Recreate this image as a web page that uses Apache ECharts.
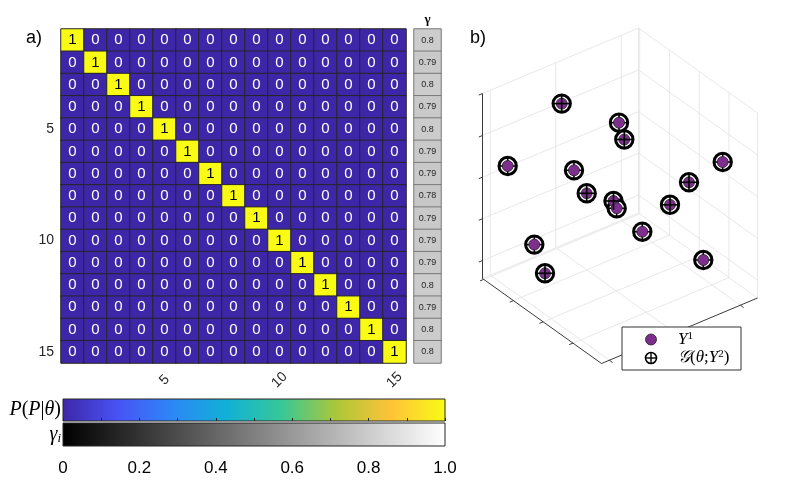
<!DOCTYPE html>
<html><head><meta charset="utf-8">
<script src="https://cdn.jsdelivr.net/npm/echarts@6/dist/echarts.min.js"></script>
<style>html,body{margin:0;padding:0;background:#fff}#c{width:788px;height:499px}</style>
</head><body><div id="c"></div>
<script>
// ---------------- data ----------------
const rowLabels = ['1','2','3','4','5','6','7','8','9','10','11','12','13','14','15'];
const colLabels = ['1','2','3','4','5','6','7','8','9','10','11','12','13','14','15'];
const probRows = [
  [1,0,0,0,0,0,0,0,0,0,0,0,0,0,0],
  [0,1,0,0,0,0,0,0,0,0,0,0,0,0,0],
  [0,0,1,0,0,0,0,0,0,0,0,0,0,0,0],
  [0,0,0,1,0,0,0,0,0,0,0,0,0,0,0],
  [0,0,0,0,1,0,0,0,0,0,0,0,0,0,0],
  [0,0,0,0,0,1,0,0,0,0,0,0,0,0,0],
  [0,0,0,0,0,0,1,0,0,0,0,0,0,0,0],
  [0,0,0,0,0,0,0,1,0,0,0,0,0,0,0],
  [0,0,0,0,0,0,0,0,1,0,0,0,0,0,0],
  [0,0,0,0,0,0,0,0,0,1,0,0,0,0,0],
  [0,0,0,0,0,0,0,0,0,0,1,0,0,0,0],
  [0,0,0,0,0,0,0,0,0,0,0,1,0,0,0],
  [0,0,0,0,0,0,0,0,0,0,0,0,1,0,0],
  [0,0,0,0,0,0,0,0,0,0,0,0,0,1,0],
  [0,0,0,0,0,0,0,0,0,0,0,0,0,0,1]
];
const gammaValues = [0.8,0.79,0.8,0.79,0.8,0.79,0.79,0.78,0.79,0.79,0.79,0.8,0.79,0.8,0.8];
const cbTickValues = [0,0.2,0.4,0.6,0.8,1.0];
const cbTickLabels = ['0','0.2','0.4','0.6','0.8','1.0'];
// panel b: projected (view-plane) coordinates of the 3-D points
const y1U = [91.7,149,154.3,37.7,104,252.7,219,116.7,143.5,146.7,200,172.3,64.3,233.3,75];
const y1V = [83.6,102.7,119.5,146,150.3,142,162.3,173.3,181,188.3,184.8,211.7,224.6,240,253.3];
const gU  = [91.7,149,154.3,37.7,104,252.7,219,116.7,143.5,146.7,200,172.3,64.3,233.3,75];
const gV  = [83.6,102.7,119.5,146,150.3,142,162.3,173.3,181,188.3,184.8,211.7,224.6,240,253.3];
const gOnTop = [1,0,1,0,0,0,1,1,1,0,1,0,0,0,1];
// 3-D axes tick fractions
const aTicks = [0.24,0.49,0.74,0.99];
const bTicks = [0.05,0.47,0.89];
const cTicks = [0.097,0.323,0.548,0.773,1.0];

// ---------------- styling ----------------
const parula = ['#3e26a8','#4852f4','#2d87f7','#11b1d6','#37c897','#abc739','#fec338','#f9fb15'];
const grays = ['#000000','#ffffff'];
const FONT = 'Liberation Sans, Arial, sans-serif';
const SERIF = 'Liberation Serif, DejaVu Serif, serif';

const heatData = [];
probRows.forEach((row,i)=>row.forEach((v,j)=>heatData.push({value:[j,i,v], label:{color: v>=0.5?'#000':'#fff'}})));
const gammaData = gammaValues.map((g,i)=>[0,i,g]);

// 3-D box projection (view units == px)
const O=[131.5,343.5], A=[-119,-85], B=[156,-65.5], C=[0,-185];
const P=(a,b,c)=>[O[0]+a*A[0]+b*B[0]+c*C[0], O[1]+a*A[1]+b*B[1]+c*C[1]];
const segs=[];
const seg=(p,q,k)=>segs.push([p[0],p[1],q[0],q[1],k]);
// floor
bTicks.forEach(b=>seg(P(0,b,0),P(1,b,0),0));
aTicks.forEach(a=>seg(P(a,0,0),P(a,1,0),0));
seg(P(1,0,0),P(1,1,0),0); seg(P(0,1,0),P(1,1,0),0);
// left wall (a=1)
bTicks.forEach(b=>seg(P(1,b,0),P(1,b,1),0));
cTicks.forEach(c=>seg(P(1,0,c),P(1,1,c),0));
seg(P(1,1,0),P(1,1,1),0);
// right wall (b=1)
aTicks.forEach(a=>seg(P(a,1,0),P(a,1,1),0));
cTicks.forEach(c=>seg(P(0,1,c),P(1,1,c),0));
seg(P(0,1,0),P(0,1,1),0);
// axis lines
seg(P(1,0,0),P(1,0,1),1); seg(P(0,0,0),P(1,0,0),1); seg(P(0,0,0),P(0,1,0),1);
const nB=Math.hypot(B[0],B[1]), nA=Math.hypot(A[0],A[1]);
const tB=[-B[0]/nB*4,-B[1]/nB*4], tA=[-A[0]/nA*4,-A[1]/nA*4];
cTicks.forEach(c=>{const p=P(1,0,c); seg(p,[p[0]+tB[0],p[1]+tB[1]],1);});
aTicks.forEach(a=>{const p=P(a,0,0); seg(p,[p[0]+tB[0],p[1]+tB[1]],1);});
bTicks.forEach(b=>{const p=P(0,b,0); seg(p,[p[0]+tA[0],p[1]+tA[1]],1);});

function gradient(cols){
  return new echarts.graphic.LinearGradient(0,0,1,0, cols.map((c,i)=>({offset:i/(cols.length-1), color:c})));
}
function cbRender(cols){
  return function(params, api){
    const p0=api.coord([0,1]), p1=api.coord([1,0]);
    return {type:'rect', shape:{x:p0[0],y:p0[1],width:p1[0]-p0[0],height:p1[1]-p0[1]},
      style:{fill:gradient(cols), stroke:'#262626', lineWidth:1}};
  };
}
const showEvery5 = (i)=> (i+1)%5===0;

const chart = echarts.init(document.getElementById('c'));
chart.setOption({
  animation:false,
  textStyle:{fontFamily:FONT},
  grid:[
    {left:61, top:29, width:345, height:334},
    {left:414, top:29, width:27, height:334},
    {left:63, top:399, width:382, height:22},
    {left:63, top:423, width:382, height:23},
    {left:470, top:20, width:300, height:360}
  ],
  xAxis:[
    {type:'category', gridIndex:0, data:colLabels, axisLine:{show:false}, axisTick:{show:false}, splitLine:{show:false},
     axisLabel:{interval:showEvery5, rotate:45, align:'center', verticalAlign:'middle', margin:17, fontSize:14, color:'#262626', fontFamily:FONT}},
    {type:'category', gridIndex:1, data:['γ'], show:false},
    {type:'value', gridIndex:2, min:0, max:1, interval:0.1, z:5, axisLine:{show:false}, splitLine:{show:false}, axisLabel:{show:false},
     axisTick:{show:true, inside:true, length:3, lineStyle:{color:'#262626', width:1}}},
    {type:'value', gridIndex:3, min:0, max:1, interval:0.2, z:5, axisLine:{show:false}, splitLine:{show:false}, axisTick:{show:false},
     axisLabel:{margin:14, fontSize:17, color:'#000', fontFamily:FONT,
       formatter:(v)=>{const k=cbTickValues.findIndex(t=>Math.abs(t-v)<1e-9); return k>=0?cbTickLabels[k]:'';}}},
    {type:'value', gridIndex:4, min:0, max:300, show:false}
  ],
  yAxis:[
    {type:'category', gridIndex:0, data:rowLabels, inverse:true, axisLine:{show:false}, axisTick:{show:false}, splitLine:{show:false},
     axisLabel:{interval:showEvery5, margin:7, fontSize:14, color:'#262626', fontFamily:FONT}},
    {type:'category', gridIndex:1, data:rowLabels, inverse:true, show:false},
    {type:'value', gridIndex:2, min:0, max:1, show:false},
    {type:'value', gridIndex:3, min:0, max:1, show:false},
    {type:'value', gridIndex:4, min:0, max:360, inverse:true, show:false}
  ],
  visualMap:[
    {type:'continuous', show:false, seriesIndex:0, min:0, max:1, inRange:{color:parula}},
    {type:'continuous', show:false, seriesIndex:1, min:0, max:1, inRange:{color:grays}}
  ],
  series:[
    {type:'heatmap', xAxisIndex:0, yAxisIndex:0, data:heatData,
     itemStyle:{borderColor:'#262626', borderWidth:1},
     label:{show:true, fontSize:15, fontFamily:FONT, formatter:(p)=>String(p.value[2])},
     emphasis:{disabled:true}},
    {type:'heatmap', xAxisIndex:1, yAxisIndex:1, data:gammaData,
     itemStyle:{borderColor:'#7a7a7a', borderWidth:1},
     label:{show:true, fontSize:9, color:'#262626', fontFamily:FONT, formatter:(p)=>String(p.value[2])},
     emphasis:{disabled:true}},
    {type:'custom', xAxisIndex:2, yAxisIndex:2, z:1, data:[[0,1]], renderItem:cbRender(parula), silent:true},
    {type:'custom', xAxisIndex:3, yAxisIndex:3, z:1, data:[[0,1]], renderItem:cbRender(grays), silent:true},
    {type:'custom', name:'box', xAxisIndex:4, yAxisIndex:4, z:1, silent:true, data:segs,
     renderItem:(params, api)=>{
       const p=api.coord([api.value(0),api.value(1)]), q=api.coord([api.value(2),api.value(3)]);
       const axis=api.value(4)===1;
       return {type:'line', shape:{x1:p[0],y1:p[1],x2:q[0],y2:q[1]},
         style:{stroke: axis?'#3a3a3a':'#e2e2e2', lineWidth: axis?1:0.8}};
     }},
    {type:'custom', name:'G', xAxisIndex:4, yAxisIndex:4, z:2, silent:true,
     data:gU.map((u,i)=>[u,gV[i],gOnTop[i]]),
     renderItem:(params, api)=>{
       const c=api.coord([api.value(0),api.value(1)]); const top=api.value(2)===1; const r=8.7;
       return {type:'group', children:[
         {type:'circle', shape:{cx:c[0],cy:c[1],r:r}, style:{fill:'#fff', stroke:'#000', lineWidth:3}, z2:5},
         {type:'line', shape:{x1:c[0]-r,y1:c[1],x2:c[0]+r,y2:c[1]}, style:{stroke:'#000', lineWidth:1.6}, z2: top?20:6},
         {type:'line', shape:{x1:c[0],y1:c[1]-r,x2:c[0],y2:c[1]+r}, style:{stroke:'#000', lineWidth:1.6}, z2: top?20:6}
       ]};
     }},
    {type:'custom', name:'Y1', xAxisIndex:4, yAxisIndex:4, z:2, silent:true,
     data:y1U.map((u,i)=>[u,y1V[i]]),
     renderItem:(params, api)=>{
       const c=api.coord([api.value(0),api.value(1)]);
       return {type:'circle', shape:{cx:c[0],cy:c[1],r:5.5}, style:{fill:'#7e2f8e', stroke:'#222', lineWidth:0.8}, z2:10};
     }}
  ],
  graphic:[
    {type:'text', left:26, top:29, style:{text:'a)', font:'18px '+FONT, fill:'#000'}},
    {type:'text', left:470, top:29, style:{text:'b)', font:'18px '+FONT, fill:'#000'}},
    {type:'text', x:427.5, y:20, style:{text:'γ', font:'bold 13px '+SERIF, fill:'#000', align:'center', verticalAlign:'middle'}},
    {type:'text', x:61, y:410, style:{text:'{i|P}{n|(}{i|P}{n||}{i|θ}{n|)}', align:'right', verticalAlign:'middle',
      rich:{i:{font:'italic 20px '+SERIF, fill:'#000'}, n:{font:'20px '+SERIF, fill:'#000'}}}},
    {type:'text', x:61, y:435, style:{text:'{g|γ}{s|i}', align:'right', verticalAlign:'middle',
      rich:{g:{font:'italic 20px '+SERIF, fill:'#000'}, s:{font:'italic 13px '+SERIF, fill:'#000', verticalAlign:'bottom', padding:[6,0,0,0]}}}},
    // legend of panel b
    {type:'rect', shape:{x:622, y:327, width:119, height:43}, style:{fill:'#fff', stroke:'#333', lineWidth:1}, z:10},
    {type:'circle', shape:{cx:651, cy:339.5, r:5.5}, style:{fill:'#7e2f8e', stroke:'#222', lineWidth:0.8}, z:11},
    {type:'circle', shape:{cx:651, cy:358, r:5.5}, style:{fill:'none', stroke:'#000', lineWidth:1.6}, z:11},
    {type:'line', shape:{x1:645.5, y1:358, x2:656.5, y2:358}, style:{stroke:'#000', lineWidth:1.4}, z:11},
    {type:'line', shape:{x1:651, y1:352.5, x2:651, y2:363.5}, style:{stroke:'#000', lineWidth:1.4}, z:11},
    {type:'text', x:678, y:340, z:11, style:{text:'{i|Y}{s|1}', verticalAlign:'middle',
      rich:{i:{font:'italic 17px '+SERIF, fill:'#000'}, s:{font:'11px '+SERIF, fill:'#000', verticalAlign:'top', padding:[0,0,7,0]}}}},
    {type:'text', x:678, y:358, z:11, style:{text:'{i|𝒢}{n|(}{i|θ}{n|;}{i|Y}{s|2}{n|)}', verticalAlign:'middle',
      rich:{i:{font:'italic 17px '+SERIF, fill:'#000'}, n:{font:'17px '+SERIF, fill:'#000'}, s:{font:'11px '+SERIF, fill:'#000', verticalAlign:'top', padding:[0,0,7,0]}}}}
  ]
});
</script>
</body></html>
